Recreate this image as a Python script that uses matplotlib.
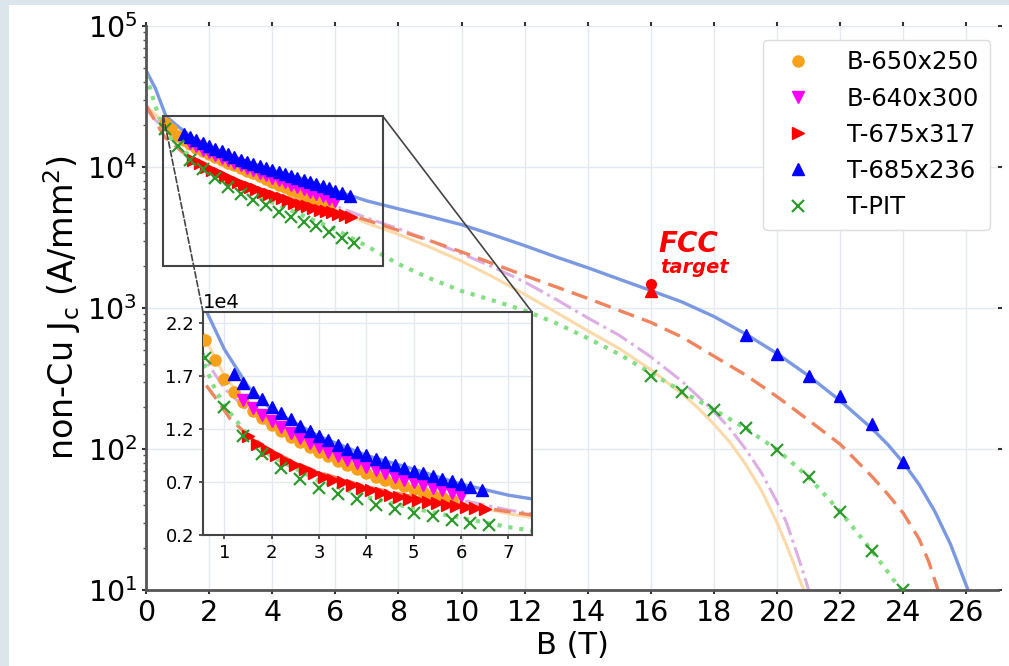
import numpy as np
import matplotlib
matplotlib.use('Agg')
from matplotlib import pyplot as plt
from matplotlib.patches import Rectangle, ConnectionPatch

# --- measured data (B in T, Jc in A/mm^2) ---
B_650x250 = [0.6, 0.8, 1.0, 1.2, 1.4, 1.6, 1.8, 2.0, 2.2, 2.4, 2.6, 2.8, 3.0, 3.2, 3.4,
             3.6, 3.8, 4.0, 4.2, 4.4, 4.6, 4.8, 5.0, 5.2, 5.4, 5.6, 5.8]
J_650x250 = [20400, 18500, 16700, 15500, 14500, 13700, 13000, 12400, 11800, 11250, 10750,
             10250, 9800, 9400, 9000, 8600, 8200, 7800, 7500, 7200, 6900, 6600, 6300,
             6050, 5800, 5550, 5300]

B_640x300 = [1.4, 1.6, 1.8, 2.0, 2.2, 2.4, 2.6, 2.8, 3.0, 3.2, 3.4, 3.6, 3.8, 4.0, 4.2,
             4.4, 4.6, 4.8, 5.0, 5.2, 5.4, 5.6, 5.8, 6.0]
J_640x300 = [14700, 14000, 13300, 12700, 12150, 11650, 11150, 10700, 10250, 9850, 9450,
             9100, 8750, 8400, 8100, 7800, 7500, 7200, 6950, 6700, 6450, 6200, 5950, 5700]

B_675x317 = [1.5, 1.7, 1.9, 2.1, 2.3, 2.5, 2.7, 2.9, 3.1, 3.3, 3.5, 3.7, 3.9, 4.1, 4.3,
             4.5, 4.7, 4.9, 5.1, 5.3, 5.5, 5.7, 5.9, 6.1, 6.3, 6.5]
J_675x317 = [11300, 10600, 10000, 9500, 9000, 8600, 8200, 7850, 7500, 7200, 6950, 6700,
             6450, 6200, 6000, 5800, 5600, 5400, 5250, 5100, 4980, 4870, 4770, 4660,
             4550, 4440]

B_685x236 = [1.2, 1.4, 1.6, 1.8, 2.0, 2.2, 2.4, 2.6, 2.8, 3.0, 3.2, 3.4, 3.6, 3.8, 4.0,
             4.2, 4.4, 4.6, 4.8, 5.0, 5.2, 5.4, 5.6, 5.8, 6.0, 6.2, 6.45,
             19, 20, 21, 22, 23, 24]
J_685x236 = [17200, 16300, 15500, 14800, 14100, 13500, 12900, 12300, 11800, 11300, 10900,
             10500, 10100, 9800, 9500, 9200, 8900, 8600, 8300, 8050, 7800, 7550, 7300,
             7050, 6800, 6550, 6200,
             641, 469, 332, 238, 151, 81]

B_pit = [0.6, 1.0, 1.4, 1.8, 2.2, 2.6, 3.0, 3.4, 3.8, 4.2, 4.6, 5.0, 5.4, 5.8, 6.2, 6.6,
         16, 17, 18, 19, 20, 21, 22, 23, 24]
J_pit = [18700, 14100, 11300, 9600, 8300, 7250, 6450, 5850, 5350, 4800, 4450, 4100, 3800,
         3450, 3150, 2900,
         332, 255, 190, 141, 99, 63, 35.5, 19, 10]

# --- fitted curves ---
Bf_650x250 = [0, 0.3, 0.6, 1, 1.5, 2, 2.5, 3, 4, 5, 6, 7, 8, 9, 10, 11, 12, 13, 14, 15,
              16, 17, 17.5, 18, 18.5, 19, 19.5, 20, 20.25, 20.5, 20.7, 20.85]
Jf_650x250 = [27000, 23500, 20500, 17000, 14300, 12400, 11000, 9800, 7800, 6300, 5000,
              4000, 3330, 2700, 2150, 1660, 1250, 930, 690, 515, 365, 245, 195, 150, 112,
              78, 51, 30, 22, 16, 12, 10]

Bf_640x300 = [0, 0.3, 0.6, 1, 1.5, 2, 2.5, 3, 4, 5, 6, 7, 8, 9, 10, 11, 12, 13, 14, 15,
              16, 17, 18, 18.5, 19, 19.5, 20, 20.3, 20.6, 20.8, 21.0]
Jf_640x300 = [26000, 21500, 18500, 15800, 13700, 12100, 10800, 9700, 7900, 6450, 5300,
              4350, 3650, 3000, 2430, 1950, 1530, 1150, 850, 640, 450, 300, 185, 140, 100,
              68, 42, 30, 19, 14, 10]

Bf_675x317 = [0, 0.3, 0.6, 0.85, 1.13, 1.5, 2, 2.5, 3, 4, 5, 6, 7, 8, 9, 10, 11, 12, 13,
              14, 15, 16, 17, 18, 19, 20, 21, 22, 23, 23.5, 24, 24.5, 24.8, 25.1]
Jf_675x317 = [27500, 21000, 16200, 14700, 12900, 11400, 9900, 8800, 7900, 6550, 5600,
              4850, 4200, 3550, 3000, 2500, 2060, 1700, 1410, 1170, 960, 790, 620, 455,
              335, 235, 160, 108, 64, 48, 35, 23, 16, 10]

Bf_685x236 = [0, 0.3, 0.63, 1.0, 1.5, 2, 3, 4, 5, 6, 7, 8, 9, 10, 11, 12, 13, 14, 15, 16,
              17, 18, 19, 20, 21, 22, 23, 23.5, 24, 24.5, 25, 25.5, 25.8, 26.05]
Jf_685x236 = [48500, 36000, 23000, 19500, 16000, 13800, 11300, 9500, 8200, 6800, 5750,
              5050, 4450, 3900, 3300, 2770, 2300, 1930, 1600, 1330, 1100, 870, 655, 475,
              330, 220, 140, 108, 80, 56, 36, 21, 14, 10]

Bf_pit = [0, 0.15, 0.3, 0.45, 0.6, 0.8, 1.0, 1.5, 2, 3, 4, 5, 6, 7, 8, 9, 10, 11, 12, 13,
          14, 15, 16, 17, 18, 19, 20, 21, 22, 23, 23.5, 24]
Jf_pit = [45000, 35000, 27000, 21500, 17800, 15800, 14200, 11400, 9400, 7100, 5600, 4500,
          3600, 2750, 2050, 1620, 1320, 1130, 960, 780, 610, 470, 345, 255, 190, 140, 99,
          63, 36, 19, 13.5, 9.5]

fcc_B = [16, 16]
fcc_J = [1480, 1330]


def draw(a):
    a.plot(Bf_650x250, Jf_650x250, '-', color='#fbd9a8', lw=2.2, zorder=2)
    a.plot(Bf_640x300, Jf_640x300, '-.', color='#dcaee4', lw=2.2, zorder=2)
    a.plot(Bf_675x317, Jf_675x317, '--', color='#f0845f', lw=2.4, dashes=(5, 2.5), zorder=2)
    a.plot(Bf_685x236, Jf_685x236, '-', color='#7b98e3', lw=2.4, zorder=2)
    a.plot(Bf_pit, Jf_pit, ':', color='#84de84', lw=3, zorder=2)
    a.plot(B_650x250, J_650x250, 'o', color='#f9a11b', ms=8, ls='none', label='B-650x250', zorder=3)
    a.plot(B_640x300, J_640x300, 'v', color='magenta', ms=8, ls='none', label='B-640x300', zorder=3)
    a.plot(B_675x317, J_675x317, '>', color='red', ms=8, ls='none', label='T-675x317', zorder=3)
    a.plot(B_685x236, J_685x236, '^', color='blue', ms=8, ls='none', label='T-685x236', zorder=3)
    a.plot(B_pit, J_pit, 'x', color='#2e9a2e', ms=8, mew=1.6, ls='none', label='T-PIT', zorder=3)


fig = plt.figure(figsize=(10.09, 6.66), dpi=100, facecolor='#dde5ec')
fig.patches.append(Rectangle((9 / 1009, 0), 1, 1 - 5 / 666, transform=fig.transFigure,
                             facecolor='white', edgecolor='none', zorder=-1))

ax = fig.add_axes([146 / 1009, 1 - 590 / 666, (998 - 146) / 1009, (590 - 26) / 666])
draw(ax)
ax.plot(fcc_B[:1], fcc_J[:1], 'o', color='red', ms=7, zorder=4)
ax.plot(fcc_B[1:], fcc_J[1:], '^', color='red', ms=9, zorder=4)
ax.text(16.25, 2480, 'FCC', color='red', fontsize=20, style='italic', fontweight='bold', zorder=5)
ax.text(16.3, 1780, 'target', color='red', fontsize=14, style='italic', fontweight='bold', zorder=5)

ax.set_yscale('log')
ax.set_xlim(0, 27)
ax.set_ylim(10, 1e5)
ax.set_xticks(range(0, 27, 2))
ax.grid(True, color='#e4e8f1', lw=1)
for s in ['top', 'right']:
    ax.spines[s].set_visible(False)
for s in ['left', 'bottom']:
    ax.spines[s].set_color('#555555')
    ax.spines[s].set_linewidth(2)
ax.tick_params(which='major', labelsize=20.5, length=3, width=1.5, color='#333333',
               top=True, right=True)
ax.tick_params(which='minor', length=2, width=1, color='#555555', right=False)
ax.set_xlabel('B (T)', fontsize=22, labelpad=3)
ax.set_ylabel(r'non-Cu J$_\mathregular{c}$ (A/mm$^\mathregular{2}$)', fontsize=24, labelpad=3)

leg = ax.legend(loc='upper right', bbox_to_anchor=(0.991, 0.976), borderaxespad=0,
                fontsize=17.5, labelspacing=0.5, handletextpad=1.0, borderpad=0.45,
                frameon=True, fancybox=True, edgecolor='#dddddd', framealpha=1)

# zoom box + inset
x0, x1, y0, y1 = 0.55, 7.5, 2000, 23000
ax.add_patch(Rectangle((x0, y0), x1 - x0, y1 - y0, fill=False, ec='#444444', lw=1.5, zorder=6))

axins = fig.add_axes([203 / 1009, 1 - 535 / 666, (532 - 203) / 1009, (535 - 312) / 666])
draw(axins)
axins.set_xlim(x0, x1)
axins.set_ylim(y0, y1)
axins.set_xticks(range(1, 8))
axins.set_yticks([2000, 7000, 12000, 17000, 22000])
axins.ticklabel_format(axis='y', style='sci', scilimits=(4, 4))
axins.yaxis.get_offset_text().set_fontsize(14)
axins.tick_params(labelsize=13, length=3, width=1.2, color='#333333')
axins.grid(True, color='#e4e8f1', lw=1)
for s in axins.spines.values():
    s.set_color('#444444')
    s.set_linewidth(1.5)

con1 = ConnectionPatch(xyA=(x1, y1), coordsA=ax.transData, xyB=(1, 1), coordsB=axins.transAxes,
                       color='#444444', lw=1.2, zorder=6)
con2 = ConnectionPatch(xyA=(x0, y1), coordsA=ax.transData, xyB=(0, 1), coordsB=axins.transAxes,
                       color='#444444', lw=1.2, ls='--', zorder=6)
fig.add_artist(con1)
fig.add_artist(con2)

fig.savefig('out.png', dpi=100, facecolor=fig.get_facecolor())
